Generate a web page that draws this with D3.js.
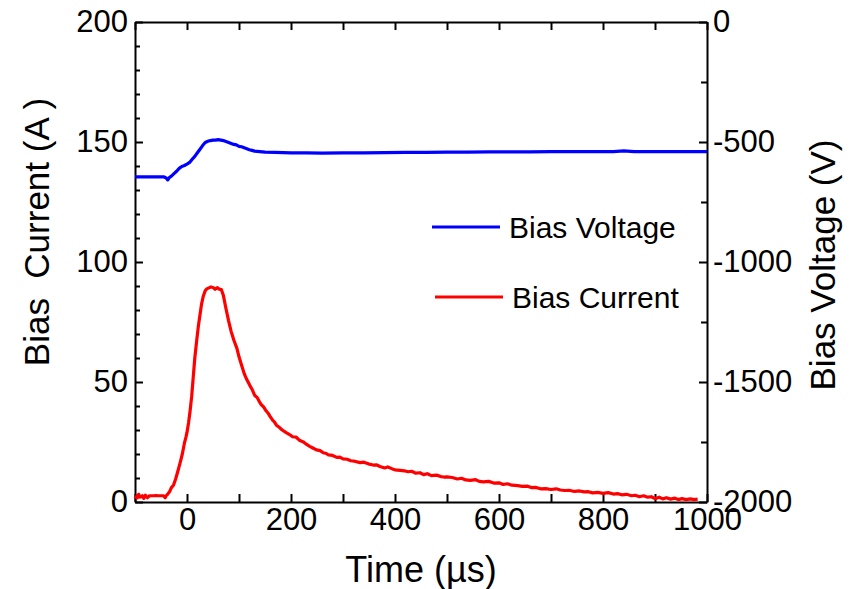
<!DOCTYPE html>
<html>
<head>
<meta charset="utf-8">
<script src="https://cdn.jsdelivr.net/npm/d3@7"></script>
<style>
  body { margin: 0; background: #fff; }
  svg { display: block; font-family: "Liberation Sans", Arial, sans-serif; }
  .axis path, .axis line { stroke: #000; stroke-width: 2px; }
  .axis text { fill: #000; font-size: 31px; }
</style>
</head>
<body>
<div id="chart"></div>
<script>
// Bias current (A) vs time (µs)
const currentTime = [-100, -96, -93, -90, -86, -83, -80, -76, -72, -68, -64, -60, -55, -50, -45, -42, -40, -37, -33, -30, -26, -22, -18, -13, -9, -5, -2, 0, 3, 6, 9, 12, 15, 19, 22, 25, 28, 31, 35, 38, 42, 46, 50, 54, 58, 62, 66, 70, 75, 80, 85, 90, 96, 100, 105, 110, 115, 121, 125, 130, 135, 140, 143, 147, 152, 156, 160, 165, 168, 172, 178, 183, 190, 198, 203, 210, 217, 224, 230, 236, 242, 249, 256, 262, 268, 272, 280, 288, 294, 300, 308, 315, 322, 333, 340, 350, 358, 365, 371, 380, 386, 395, 400, 410, 418, 425, 432, 440, 448, 455, 462, 470, 480, 488, 494, 500, 510, 520, 528, 536, 545, 555, 562, 570, 580, 590, 600, 608, 616, 625, 636, 645, 655, 662, 670, 680, 690, 700, 710, 718, 726, 735, 745, 755, 764, 772, 780, 790, 800, 810, 820, 828, 836, 845, 855, 862, 870, 878, 886, 893, 900, 908, 915, 922, 930, 938, 945, 952, 960, 968, 975, 982, 990, 1000];
const currentValues = [2.6, 1.6, 3.2, 2.0, 2.6, 1.5, 2.8, 1.8, 2.6, 2.6, 2.6, 2.7, 2.6, 2.6, 2.6, 1.8, 2.6, 3.3, 4.5, 6.0, 7.0, 9.5, 12.5, 16.5, 20.0, 24.5, 27.0, 29.0, 33.0, 38.0, 44.0, 52.0, 60.0, 68.0, 73.5, 78.0, 82.5, 85.5, 88.0, 88.8, 89.2, 89.6, 89.4, 88.6, 89.3, 88.7, 88.5, 86.0, 80.5, 75.5, 71.0, 67.5, 64.0, 60.5, 57.0, 53.5, 51.0, 48.5, 47.0, 44.5, 43.5, 41.5, 40.5, 39.7, 38.0, 37.0, 35.6, 34.0, 33.4, 32.0, 31.0, 30.0, 29.0, 28.0, 27.2, 27.0, 25.6, 25.0, 24.0, 23.2, 22.5, 21.7, 21.4, 20.5, 20.2, 19.6, 19.4, 18.6, 18.7, 18.0, 17.8, 17.2, 17.0, 16.4, 16.6, 15.8, 15.4, 15.5, 14.8, 14.2, 14.6, 13.8, 13.4, 13.2, 13.0, 12.6, 12.8, 12.0, 12.2, 11.4, 11.8, 11.0, 11.2, 10.6, 10.4, 10.5, 10.2, 9.6, 9.9, 9.2, 9.0, 9.3, 8.6, 8.4, 8.6, 7.9, 8.0, 7.3, 7.6, 7.0, 6.8, 6.5, 6.6, 6.0, 6.1, 5.5, 5.6, 5.2, 5.5, 5.0, 4.8, 4.9, 4.4, 4.6, 4.2, 4.3, 3.8, 4.0, 3.6, 3.9, 3.3, 3.5, 3.0, 3.2, 2.6, 2.8, 2.2, 2.6, 2.0, 2.2, 1.4, 2.0, 1.3, 1.8, 1.2, 1.6, 1.0, 1.4, 1.0, 1.3, 1.0, 1.2];

// Bias voltage (V) vs time (µs)
const voltageTime = [-100, -80, -60, -45, -40, -37, -34, -30, -25, -20, -15, -10, -5, 0, 5, 10, 15, 20, 25, 30, 35, 40, 45, 50, 55, 60, 65, 70, 75, 80, 85, 90, 95, 100, 105, 110, 115, 120, 125, 130, 140, 150, 170, 200, 230, 260, 300, 340, 380, 420, 460, 500, 540, 580, 620, 660, 700, 740, 780, 820, 840, 860, 900, 940, 980, 1000];
const voltageValues = [-645, -645, -645, -645, -650, -658, -648, -642, -632, -622, -610, -602, -598, -592, -585, -572, -560, -545, -530, -515, -502, -497, -494, -492, -492, -490, -492, -494, -498, -502, -506, -510, -512, -518, -520, -524, -528, -532, -535, -538, -540, -542, -543, -545, -545, -546, -545, -545, -544, -543, -543, -542, -542, -541, -541, -541, -540, -540, -540, -540, -537, -540, -540, -540, -540, -540];

const xTicks = [0, 200, 400, 600, 800, 1000];
const currentTicks = [0, 50, 100, 150, 200];
const voltageTicks = [-2000, -1500, -1000, -500, 0];

const legendItems = ["Bias Voltage", "Bias Current"];
const colors = {current: "#ff0000", voltage: "#0000ff"};

const W = 851, H = 589;
const plot = {left: 135, right: 707, top: 22, bottom: 502};

const svg = d3.select("#chart").append("svg")
  .attr("width", W)
  .attr("height", H);

const x = d3.scaleLinear().domain([-100, 1000]).range([plot.left, plot.right]);
const yI = d3.scaleLinear().domain([0, 200]).range([plot.bottom, plot.top]);
const yV = d3.scaleLinear().domain([-2000, 0]).range([plot.bottom, plot.top]);

// minor ticks
const xMinor = d3.range(-100, 1001, 100);
const iMinor = d3.range(0, 201, 10);
const vMinor = d3.range(-2000, 1, 250);

// bottom axis
svg.append("g").attr("class", "axis")
  .attr("transform", `translate(0,${plot.bottom})`)
  .call(d3.axisBottom(x).tickValues(xMinor).tickSizeInner(-8).tickSizeOuter(0).tickPadding(6)
    .tickFormat(d => xTicks.includes(d) ? d : ""));

// top axis
svg.append("g").attr("class", "axis")
  .attr("transform", `translate(0,${plot.top})`)
  .call(d3.axisTop(x).tickValues(xMinor).tickSizeInner(-8).tickSizeOuter(0).tickFormat(""));

// left axis
const gl = svg.append("g").attr("class", "axis")
  .attr("transform", `translate(${plot.left},0)`)
  .call(d3.axisLeft(yI).tickValues(iMinor).tickSizeInner(-5).tickSizeOuter(0).tickPadding(7)
    .tickFormat(d => currentTicks.includes(d) ? d : ""));
gl.selectAll(".tick").filter(d => currentTicks.includes(d)).select("line").attr("x2", 8);

// right axis
const gr = svg.append("g").attr("class", "axis")
  .attr("transform", `translate(${plot.right},0)`)
  .call(d3.axisRight(yV).tickValues(vMinor).tickSizeInner(-6).tickSizeOuter(0).tickPadding(6)
    .tickFormat(d => voltageTicks.includes(d) ? d : ""));
gr.selectAll(".tick").filter(d => voltageTicks.includes(d)).select("line").attr("x2", -8);

// lines
const currentLine = d3.line().x(d => x(d[0])).y(d => yI(d[1]));
const voltageLine = d3.line().x(d => x(d[0])).y(d => yV(d[1]));

svg.append("path")
  .datum(d3.zip(voltageTime, voltageValues))
  .attr("d", voltageLine)
  .attr("fill", "none")
  .attr("stroke", colors.voltage)
  .attr("stroke-width", 3.2)
  .attr("stroke-linejoin", "round");

svg.append("path")
  .datum(d3.zip(currentTime, currentValues))
  .attr("d", currentLine)
  .attr("fill", "none")
  .attr("stroke", colors.current)
  .attr("stroke-width", 3.2)
  .attr("stroke-linejoin", "round");

// axis titles
svg.append("text")
  .attr("x", 421)
  .attr("y", 582)
  .attr("text-anchor", "middle")
  .style("font-size", "36px")
  .text("Time (µs)");

svg.append("text")
  .attr("transform", "translate(49,232) rotate(-90)")
  .attr("text-anchor", "middle")
  .style("font-size", "35px")
  .style("white-space", "pre")
  .text("Bias  Current (A )");

svg.append("text")
  .attr("transform", "translate(835,265) rotate(-90)")
  .attr("text-anchor", "middle")
  .style("font-size", "35px")
  .text("Bias Voltage (V)");

// legend
const legendPos = [{x1: 432, x2: 500, y: 227, c: colors.voltage}, {x1: 435, x2: 503, y: 297, c: colors.current}];
legendItems.forEach((name, i) => {
  const p = legendPos[i];
  svg.append("line")
    .attr("x1", p.x1).attr("x2", p.x2)
    .attr("y1", p.y).attr("y2", p.y)
    .attr("stroke", p.c).attr("stroke-width", 3);
  svg.append("text")
    .attr("x", p.x2 + 9)
    .attr("y", p.y)
    .attr("dy", "0.35em")
    .style("font-size", "30px")
    .text(name);
});
</script>
</body>
</html>
